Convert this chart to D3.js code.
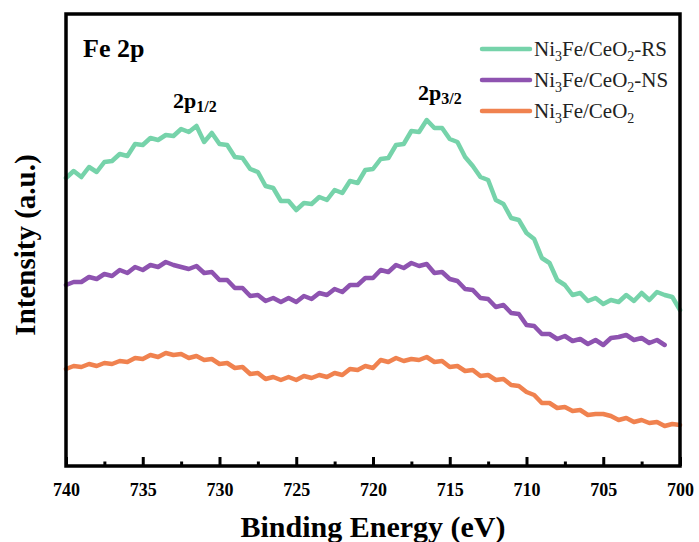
<!DOCTYPE html>
<html>
<head>
<meta charset="utf-8">
<script src="https://cdn.jsdelivr.net/npm/d3@7"></script>
<style>
  html, body { margin: 0; padding: 0; background: #fff; }
  svg { display: block; }
  svg text { font-family: "Liberation Serif", "Times New Roman", Times, serif; }
</style>
</head>
<body>
<svg id="chart" width="699" height="542"></svg>
<script>
// Binding energy grid (eV), 740 -> 700 in 0.5 eV steps
const energy = d3.range(0, 81).map(i => 740 - i * 0.5);

// Intensities (a.u.)
const rsValues = [
  288, 295, 289, 299, 294, 304, 305, 312, 310, 322, 321, 328, 326, 331, 330, 337,
  334, 340, 324, 333, 322, 321, 309, 308, 297, 294, 280, 278, 265, 265, 256, 263,
  262, 269, 266, 276, 273, 285, 283, 296, 297, 307, 308, 321, 322, 335, 334, 346,
  338, 338, 327, 324, 309, 300, 289, 286, 266, 262, 248, 246, 233, 227, 208, 203,
  186, 181, 171, 173, 165, 168, 162, 166, 164, 171, 165, 173, 166, 174, 171, 169, 156
];
const nsValues = [
  181, 184, 184, 189, 187, 192, 190, 196, 193, 199, 196, 201, 199, 204, 201, 199,
  197, 200, 193, 194, 186, 186, 178, 178, 170, 171, 165, 168, 164, 168, 164, 170,
  167, 173, 171, 177, 174, 181, 181, 188, 188, 196, 194, 201, 198, 203, 200, 202,
  193, 194, 187, 185, 177, 176, 168, 167, 159, 161, 153, 152, 141, 140, 132, 132,
  127, 130, 125, 127, 122, 126, 121, 128, 129, 131, 126, 128, 123, 126, 121, null, null
];
const ceValues = [
  97, 100, 99, 102, 100, 103, 102, 105, 104, 108, 107, 111, 109, 113, 111, 112,
  108, 110, 106, 107, 102, 103, 98, 99, 92, 93, 87, 89, 86, 89, 86, 90,
  88, 91, 89, 93, 91, 97, 96, 100, 98, 106, 104, 108, 105, 107, 106, 109,
  104, 105, 99, 100, 95, 96, 90, 91, 86, 87, 81, 80, 74, 71, 63, 63,
  58, 59, 55, 56, 51, 52, 52, 50, 46, 48, 44, 46, 43, 44, 40, 42, 41
];

const seriesNames = ["Ni3Fe/CeO2-RS", "Ni3Fe/CeO2-NS", "Ni3Fe/CeO2"];
const seriesColors = ["#76d3aa", "#8e53b0", "#f0824f"];
const seriesValues = [rsValues, nsValues, ceValues];
const xTicks = [740, 735, 730, 725, 720, 715, 710, 705, 700];
const xMinorTicks = [737.5, 732.5, 727.5, 722.5, 717.5, 712.5, 707.5, 702.5];

const svg = d3.select("#chart");
const pLeft = 66, pRight = 680, pTop = 14, pBottom = 466;

const x = d3.scaleLinear().domain([740, 700]).range([pLeft, pRight]);
const y = d3.scaleLinear().domain([0, 452]).range([pBottom, pTop]);

// Curves
const line = d3.line()
  .defined(d => d[1] !== null)
  .x(d => x(d[0]))
  .y(d => y(d[1]));

seriesValues.forEach((vals, i) => {
  svg.append("path")
    .datum(energy.map((e, j) => [e, vals[j]]))
    .attr("fill", "none")
    .attr("stroke", seriesColors[i])
    .attr("stroke-width", 4.5)
    .attr("stroke-linejoin", "round")
    .attr("stroke-linecap", "round")
    .attr("d", line);
});

// Frame
svg.append("rect")
  .attr("x", pLeft).attr("y", pTop)
  .attr("width", pRight - pLeft).attr("height", pBottom - pTop)
  .attr("fill", "none").attr("stroke", "#000").attr("stroke-width", 3.5);

// Bottom axis (inward ticks)
const xAxis = d3.axisBottom(x).tickValues(xTicks).tickSize(-9).tickPadding(17)
  .tickFormat(d3.format("d"));
const gx = svg.append("g").attr("transform", `translate(0,${pBottom})`).call(xAxis);
gx.attr("font-family", null);
gx.select(".domain").remove();
gx.selectAll(".tick line").attr("stroke", "#000").attr("stroke-width", 3);
gx.selectAll(".tick text")
  .attr("font-weight", "bold").attr("font-size", 18)
  .attr("fill", "#000");

const xMinor = d3.axisBottom(x).tickValues(xMinorTicks).tickSize(-4.5).tickFormat("");
const gxm = svg.append("g").attr("transform", `translate(0,${pBottom})`).call(xMinor);
gxm.select(".domain").remove();
gxm.selectAll(".tick line").attr("stroke", "#000").attr("stroke-width", 3);

// Axis titles
svg.append("text")
  .attr("x", (pLeft + pRight) / 2).attr("y", 537)
  .attr("text-anchor", "middle")
  .attr("font-weight", "bold").attr("font-size", 30)
  .text("Binding Energy (eV)");

svg.append("text")
  .attr("transform", "translate(35,245) rotate(-90)")
  .attr("text-anchor", "middle")
  .attr("font-weight", "bold").attr("font-size", 29)
  .text("Intensity (a.u.)");

// Panel label
svg.append("text")
  .attr("x", 83).attr("y", 57)
  .attr("font-weight", "bold").attr("font-size", 26)
  .text("Fe 2p");

// Peak labels
function peakLabel(px, py, sub) {
  const t = svg.append("text")
    .attr("x", px).attr("y", py)
    .attr("font-weight", "bold").attr("font-size", 22);
  t.append("tspan").text("2p");
  t.append("tspan").attr("font-size", 16).attr("dy", 4).text(sub);
}
peakLabel(173, 108, "1/2");
peakLabel(418, 100, "3/2");

// Legend
const legendRows = [
  [["Ni", 0], ["3", 1], ["Fe/CeO", 0], ["2", 1], ["-RS", 0]],
  [["Ni", 0], ["3", 1], ["Fe/CeO", 0], ["2", 1], ["-NS", 0]],
  [["Ni", 0], ["3", 1], ["Fe/CeO", 0], ["2", 1]]
];
const legendY = [49, 80, 111];
legendRows.forEach((parts, i) => {
  svg.append("line")
    .attr("x1", 482).attr("x2", 530)
    .attr("y1", legendY[i]).attr("y2", legendY[i])
    .attr("stroke", seriesColors[i]).attr("stroke-width", 4.5)
    .attr("stroke-linecap", "round");
  const t = svg.append("text")
    .attr("x", 534).attr("y", legendY[i] + 7)
    .attr("font-size", 21).attr("fill", "#222");
  let lowered = false;
  parts.forEach(([s, sub]) => {
    const ts = t.append("tspan").text(s);
    if (sub && !lowered) { ts.attr("font-size", 14).attr("dy", 5); lowered = true; }
    else if (!sub && lowered) { ts.attr("dy", -5); lowered = false; }
    else if (sub) { ts.attr("font-size", 14); }
  });
});
</script>
</body>
</html>
